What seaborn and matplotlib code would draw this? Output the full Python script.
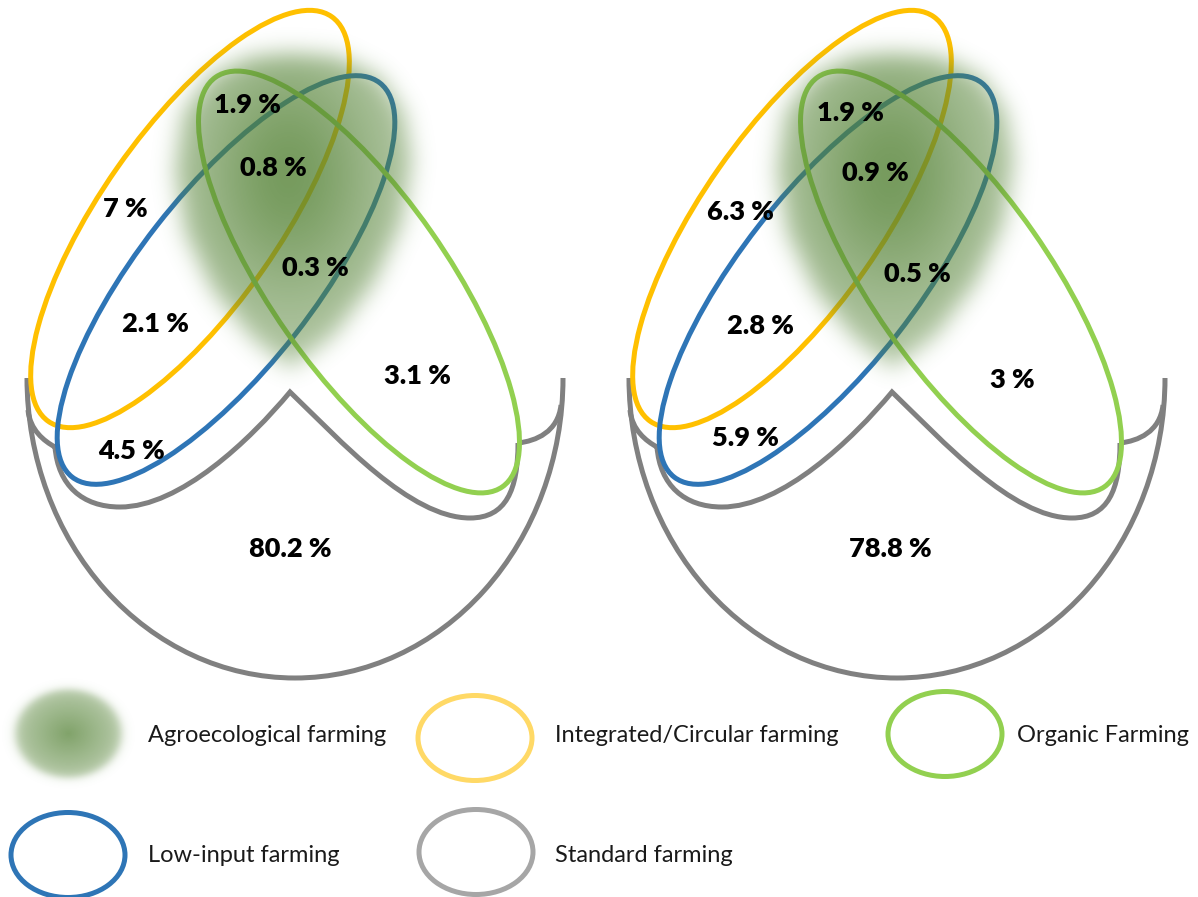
import numpy as np
import matplotlib
matplotlib.use("Agg")
import matplotlib.pyplot as plt
import seaborn as sns
from matplotlib.patches import Ellipse, Arc, PathPatch
from matplotlib.path import Path

# ---------------- DATA ----------------
region_names = ["Int+Low+Org", "All three", "Integrated only", "Low+Org", "Int+Low",
                "Organic only", "Low-input only", "Standard"]
left_values = [1.9, 0.8, 7, 0.3, 2.1, 3.1, 4.5, 80.2]
right_values = [1.9, 0.9, 6.3, 0.5, 2.8, 3, 5.9, 78.8]
legend_labels = ["Agroecological farming", "Integrated/Circular farming", "Organic Farming",
                 "Low-input farming", "Standard farming"]

# ---------------- STYLE / LAYOUT ----------------
sns.set_theme(style="white")
plt.rcParams["font.family"] = ["Lato", "DejaVu Sans"]

YELLOW, BLUE, GREEN, GRAY = "#FFC000", "#2E75B6", "#92D050", "#808080"
LEG_YELLOW, LEG_GRAY = "#FFD966", "#A6A6A6"
BLOB_RGB = np.array([84, 130, 53]) / 255.0
LW = 3.6

panel_offsets = [0, 602]
label_pos_left = [(247, 105), (273, 168), (125, 209), (315, 268), (155, 324),
                  (417, 376), (132, 451), (290, 549)]
label_pos_right = [(850, 113), (875, 173), (740, 212), (917, 274), (760, 326),
                   (1012, 380), (745, 438), (890, 549)]

W, H = 1198, 897
fig = plt.figure(figsize=(W / 100, H / 100), dpi=100)
ax = fig.add_axes([0, 0, 1, 1])
ax.set_xlim(0, W)
ax.set_ylim(H, 0)
ax.axis("off")


def gauss_blur(img, sigma):
    r = int(3 * sigma)
    k = np.exp(-0.5 * (np.arange(-r, r + 1) / sigma) ** 2)
    k /= k.sum()
    img = np.apply_along_axis(lambda m: np.convolve(m, k, mode="same"), 0, img)
    img = np.apply_along_axis(lambda m: np.convolve(m, k, mode="same"), 1, img)
    return img


blob_outline = [(290, 52), (338, 56), (380, 76), (404, 112), (412, 160), (402, 222),
                (374, 282), (334, 334), (290, 368), (252, 338), (212, 290),
                (184, 232), (174, 170), (182, 112), (210, 74), (250, 56)]


def draw_blob(dx):
    x0, x1, y0, y1 = dx + 120, dx + 460, 10, 420
    xs = np.arange(x0, x1)
    ys = np.arange(y0, y1)
    X, Y = np.meshgrid(xs, ys)
    poly = Path([(px + dx, py) for px, py in blob_outline])
    mask = poly.contains_points(np.c_[X.ravel(), Y.ravel()]).reshape(X.shape).astype(float)
    soft = gauss_blur(mask, 11)
    grad = 0.42 + 0.38 * np.exp(-(((X - (dx + 288)) / 90) ** 2 + ((Y - 175) / 125) ** 2))
    alpha = np.clip(soft * grad, 0, 1)
    rgba = np.zeros(X.shape + (4,))
    rgba[..., :3] = BLOB_RGB
    rgba[..., 3] = alpha
    ax.imshow(rgba, extent=(x0, x1, y1, y0), origin="upper", interpolation="bilinear",
              zorder=3, aspect="auto")


def draw_gray(dx):
    ax.add_patch(Arc((dx + 295, 378), 536, 600, theta1=0, theta2=180,
                     lw=LW, color=GRAY, zorder=2))
    verts = [(28, 410), (30, 430), (44, 441), (55, 447),
             (58, 485), (82, 507), (120, 507),
             (180, 507), (250, 440), (290, 392),
             (340, 440), (410, 518), (470, 518),
             (506, 518), (518, 490), (518, 443)]
    codes = [Path.MOVETO] + [Path.CURVE4] * 15
    ax.add_patch(PathPatch(Path([(x + dx, y) for x, y in verts], codes),
                           fill=False, lw=LW, edgecolor=GRAY, zorder=2))
    hook = [(518, 443), (536, 441), (558, 432), (561, 405)]
    ax.add_patch(PathPatch(Path([(x + dx, y) for x, y in hook],
                                [Path.MOVETO] + [Path.CURVE4] * 3),
                           fill=False, lw=LW, edgecolor=GRAY, zorder=2))


def draw_panel(dx, values, positions):
    draw_gray(dx)
    ax.add_patch(Ellipse((dx + 190, 219), 494, 178, angle=-55, fill=False,
                         lw=LW, edgecolor=YELLOW, zorder=2))
    ax.add_patch(Ellipse((dx + 226, 280), 500, 176, angle=-52, fill=False,
                         lw=LW, edgecolor=BLUE, zorder=2))
    ax.add_patch(Ellipse((dx + 359, 282), 500, 176, angle=55, fill=False,
                         lw=LW, edgecolor=GREEN, zorder=2))
    draw_blob(dx)
    for v, (px, py) in zip(values, positions):
        ax.text(px, py, f"{v:g} %", ha="center", va="center", fontsize=19.5,
                fontweight="heavy", color="black", zorder=5)


draw_panel(panel_offsets[0], left_values, label_pos_left)
draw_panel(panel_offsets[1], right_values, label_pos_right)

# ---------------- LEGEND ----------------
# agroecological swatch (soft radial blob)
cx, cy, rx, ry = 68, 733, 59, 49
xs = np.arange(0, 140)
ys = np.arange(675, 795)
X, Y = np.meshgrid(xs, ys)
r = np.sqrt(((X - cx) / rx) ** 2 + ((Y - cy) / ry) ** 2)
alpha = (0.74 - 0.34 * np.clip(r, 0, 1)) / (1 + np.exp((r - 0.9) / 0.05))
rgba = np.zeros(X.shape + (4,))
rgba[..., :3] = BLOB_RGB
rgba[..., 3] = np.clip(alpha, 0, 1)
ax.imshow(rgba, extent=(0, 140, 795, 675), origin="upper", interpolation="bilinear",
          zorder=3, aspect="auto")

legend_rings = [(None, None), ((475, 738), LEG_YELLOW), ((945, 734), GREEN),
                ((68, 855), BLUE), ((476, 852), LEG_GRAY)]
for (center, col) in legend_rings:
    if center is None:
        continue
    ax.add_patch(Ellipse(center, 114, 85, fill=False, lw=LW, edgecolor=col, zorder=2))

legend_text_pos = [(148, 735), (555, 735), (1017, 735), (148, 855), (555, 855)]
for lab, (tx, ty) in zip(legend_labels, legend_text_pos):
    ax.text(tx, ty, lab, ha="left", va="center", fontsize=17, color="#1a1a1a", zorder=5)

fig.savefig("out.png", dpi=100)
